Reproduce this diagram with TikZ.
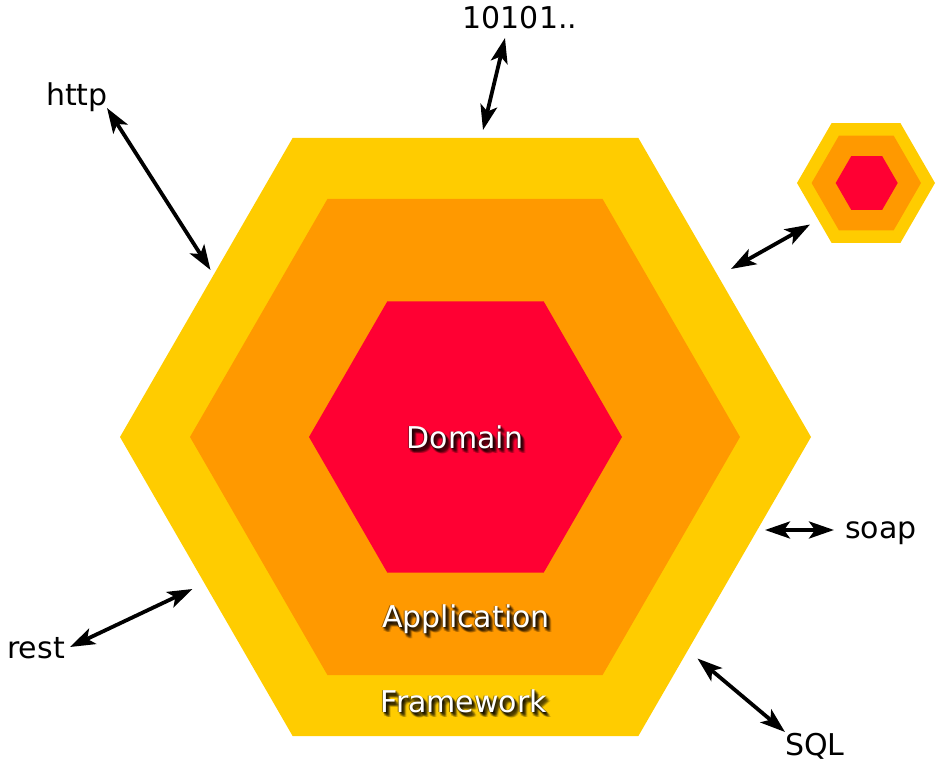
\documentclass[tikz,border=0pt]{standalone}
\usepackage{fontspec}
\setmainfont{DejaVu Sans}
\usetikzlibrary{arrows.meta}
\definecolor{hexY}{HTML}{FFCC00}
\definecolor{hexO}{HTML}{FF9900}
\definecolor{hexR}{HTML}{FF0033}
\newcommand{\hexfill}[4]{%
  \fill[#4, shift={(#1,#2)}] ({#3},0) -- ({#3/2},{0.8660254*#3}) -- ({-#3/2},{0.8660254*#3}) -- ({-#3},0) -- ({-#3/2},{-0.8660254*#3}) -- ({#3/2},{-0.8660254*#3}) -- cycle;}
\begin{document}
\begin{tikzpicture}[x=1pt,y=-1pt,
  lbl/.style={font=\fontsize{30}{36}\selectfont, inner sep=0pt, anchor=base, text=black},
  layer/.style={font=\fontsize{30}{36}\selectfont, inner sep=0pt, anchor=base, text=white},
  shade/.style={font=\fontsize{30}{36}\selectfont, inner sep=0pt, anchor=base, text=black, text opacity=0.13},
  link/.style={line width=3.8pt, arrows={Stealth[length=25pt,width=17pt,inset=6pt]-Stealth[length=25pt,width=17pt,inset=6pt]}}]
\useasboundingbox (0,0) rectangle (943,762);
% main hexagon
\hexfill{465.5}{437}{345.5}{hexY}
\hexfill{465}{437}{275}{hexO}
\hexfill{465.5}{437}{156.5}{hexR}
% small hexagon
\hexfill{866}{183}{69}{hexY}
\hexfill{866.3}{183}{54.7}{hexO}
\hexfill{866.7}{183}{31}{hexR}
% layer labels with shadow
\foreach \t/\x/\y in {Domain/465/448, Application/466/627, Framework/464/712}{
  \foreach \dx/\dy in {1/2,2/3,3/4,2/2,3/3,1/3,3/2,2/4,4/4,4/5,3/5,5/5,1/4,4/3,0/2,2/1}{
    \node[shade] at (\x+\dx,\y+\dy) {\t};}
  \node[shade, text opacity=0.4] at (\x-1,\y) {\t};
  \node[shade, text opacity=0.4] at (\x+1,\y+1) {\t};
}
\node[layer] (domain) at (465,448) {Domain};
\node[layer] (application) at (466,627) {Application};
\node[layer] (framework) at (464,712) {Framework};
% outer labels
\node[lbl] (bits) at (520,28.5) {10101..};
\node[lbl] (http) at (77,106) {http};
\node[lbl] (rest) at (36,658) {rest};
\node[lbl] (soap) at (881,538) {soap};
\node[lbl] (sql) at (815,755) {SQL};
% arrow ends
\coordinate (bitsA) at (505,38);   \coordinate (bitsB) at (483,130);
\coordinate (httpA) at (107,108);  \coordinate (httpB) at (210.5,270);
\coordinate (smA) at (810,224.5);  \coordinate (smB) at (731,269);
\coordinate (restA) at (70,647);   \coordinate (restB) at (192.5,589);
\coordinate (soapA) at (834,530);  \coordinate (soapB) at (765,530);
\coordinate (sqlA) at (785,732);   \coordinate (sqlB) at (697.5,658.5);
\draw[link] (bitsA) -- (bitsB);
\draw[link] (httpA) -- (httpB);
\draw[link] (smA) -- (smB);
\draw[link] (restA) -- (restB);
\draw[link] (soapA) -- (soapB);
\draw[link] (sqlA) -- (sqlB);
\end{tikzpicture}
\end{document}
